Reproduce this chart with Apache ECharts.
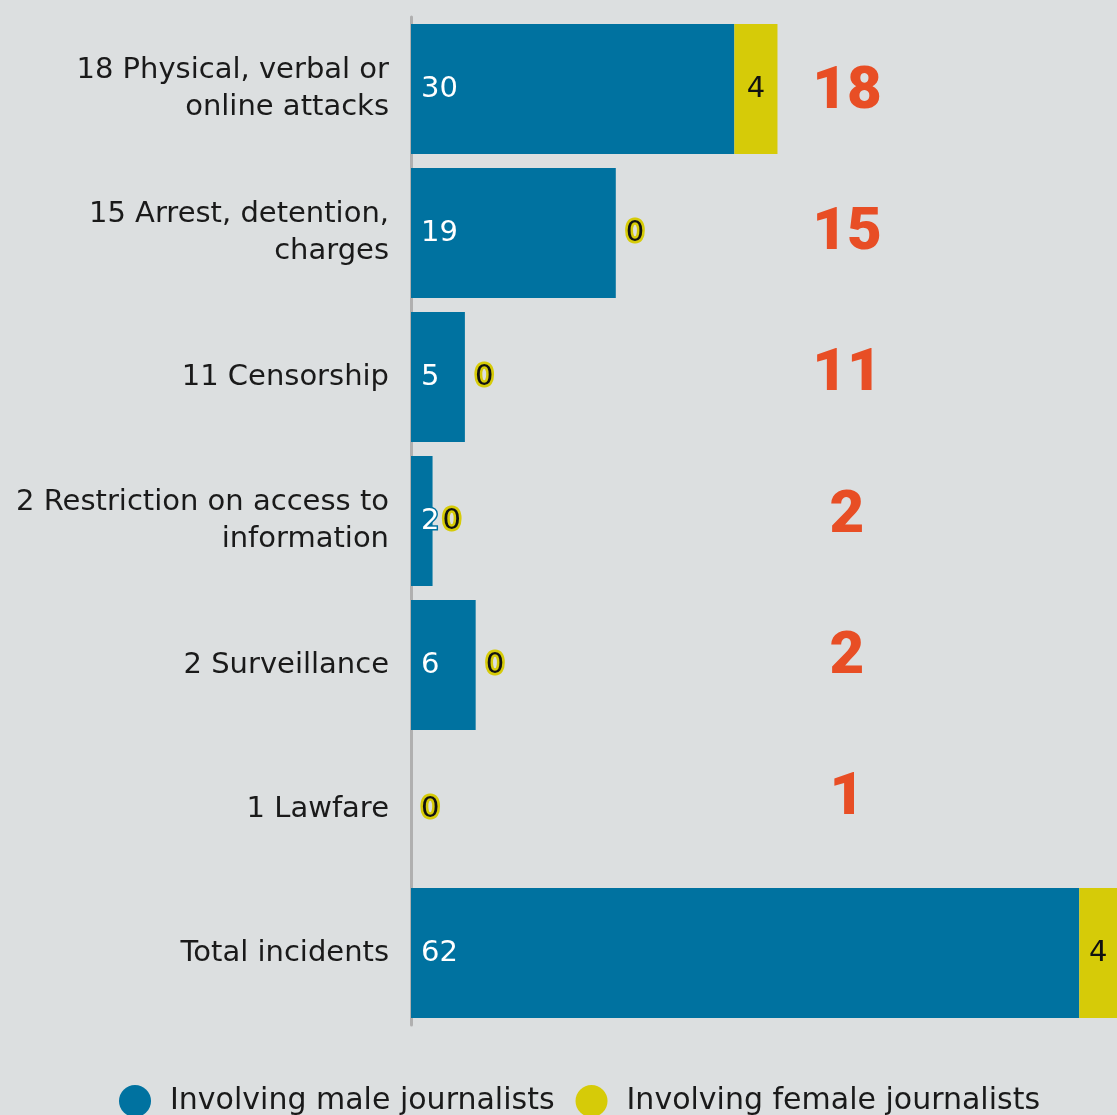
<!DOCTYPE html>
<html>
<head>
<meta charset="utf-8">
<script src="https://cdn.jsdelivr.net/npm/echarts@6/dist/echarts.min.js"></script>
<style>
html,body{margin:0;padding:0;background:#dcdfe0;}
#chart{width:1117px;height:1115px;}
</style>
</head>
<body>
<div id="chart"></div>
<script>
const categories = [
  "18 Physical, verbal or\nonline attacks",
  "15 Arrest, detention,\ncharges",
  "11 Censorship",
  "2 Restriction on access to\ninformation",
  "2 Surveillance",
  "1 Lawfare",
  "Total incidents"
];
const maleValues = [30, 19, 5, 2, 6, 0, 62];
const femaleValues = [4, 0, 0, 0, 0, 0, 4];
const incidentCounts = [18, 15, 11, 2, 2, 1];
const seriesNames = ["Involving male journalists", "Involving female journalists"];

const BLUE = '#0072a0';
const YELLOW = '#d6cb08';
const ORANGE = '#e84e25';
const FONT = 'DejaVu Sans';

const chart = echarts.init(document.getElementById('chart'), null, {renderer: 'canvas'});

const femaleData = femaleValues.map(v => {
  if (v === 0) {
    return {value: v, label: {position: 'right', distance: 10, textBorderColor: YELLOW, textBorderWidth: 5}};
  }
  return {value: v};
});

const option = {
  backgroundColor: '#dcdfe0',
  animation: false,
  legend: {
    top: 1085,
    left: 119,
    padding: 0,
    icon: 'circle',
    itemWidth: 32,
    itemHeight: 32,
    itemGap: 21,
    textStyle: {fontFamily: FONT, fontSize: 30, color: '#1a1a1a', padding: [0, 0, 0, 14]},
    data: seriesNames
  },
  grid: [
    {left: 411, right: 0, top: 17, height: 1008, containLabel: false},
    {left: 800, width: 94, top: 22, height: 848}
  ],
  xAxis: [
    {type: 'value', gridIndex: 0, min: 0, max: 65.5, show: false},
    {type: 'value', gridIndex: 1, min: 0, max: 1, show: false}
  ],
  yAxis: [
    {
      type: 'category', gridIndex: 0, inverse: true, data: categories,
      axisLine: {show: true, lineStyle: {color: '#b0b0b0', width: 3}},
      axisTick: {show: false},
      axisLabel: {fontFamily: FONT, fontSize: 29, color: '#1a1a1a', margin: 22, lineHeight: 37, align: 'right'}
    },
    {
      type: 'category', gridIndex: 1, inverse: true, show: false,
      data: incidentCounts.map((v, i) => i)
    }
  ],
  series: [
    {
      name: seriesNames[0], type: 'bar', stack: 'total', barWidth: 130,
      xAxisIndex: 0, yAxisIndex: 0,
      itemStyle: {color: BLUE},
      label: {
        show: true, position: 'insideLeft', distance: 10,
        fontFamily: FONT, fontSize: 29, color: '#ffffff',
        textBorderColor: BLUE, textBorderWidth: 3,
        formatter: p => p.value === 0 ? '' : String(p.value)
      },
      data: maleValues
    },
    {
      name: seriesNames[1], type: 'bar', stack: 'total', barWidth: 130,
      xAxisIndex: 0, yAxisIndex: 0,
      itemStyle: {color: YELLOW},
      label: {
        show: true, position: 'inside',
        fontFamily: FONT, fontSize: 29, color: '#111111'
      },
      data: femaleData
    },
    {
      type: 'scatter', xAxisIndex: 1, yAxisIndex: 1,
      symbolSize: 0, silent: true,
      itemStyle: {opacity: 1},
      label: {
        show: true, position: 'inside', opacity: 1,
        fontFamily: 'Roboto', fontWeight: 900, fontSize: 60, color: ORANGE,
        formatter: p => String(p.value[2])
      },
      data: incidentCounts.map((v, i) => [0.5, i, v])
    }
  ]
};
chart.setOption(option);
</script>
</body>
</html>
